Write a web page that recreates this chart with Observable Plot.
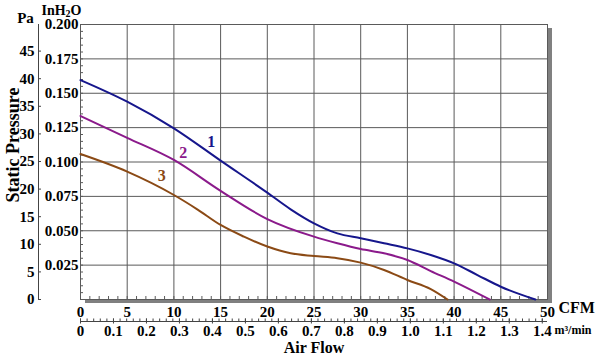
<!DOCTYPE html>
<html>
<head>
<meta charset="utf-8">
<script src="https://cdn.jsdelivr.net/npm/d3@7"></script>
<script src="https://cdn.jsdelivr.net/npm/@observablehq/plot@0.6"></script>
<style>
  html, body { margin: 0; padding: 0; background: #fff; }
  #chart { width: 600px; height: 358px; }
  #chart svg text { font-weight: bold; }
</style>
</head>
<body>
<div id="chart"></div>
<script>
// ---- data ----
const PA_PER_INH2O = 249.09;
const CFM_PER_M3MIN = 35.3147;

const cfmTicks = [0, 5, 10, 15, 20, 25, 30, 35, 40, 45, 50];
const inH2OTicks = [0.025, 0.05, 0.075, 0.1, 0.125, 0.15, 0.175, 0.2];
const paTicks = [0, 5, 10, 15, 20, 25, 30, 35, 40, 45];
const m3Ticks = [0, 0.1, 0.2, 0.3, 0.4, 0.5, 0.6, 0.7, 0.8, 0.9, 1.0, 1.1, 1.2, 1.3, 1.4];

const cfm1 = [0, 5, 10, 15, 20, 22.5, 25, 27.5, 30, 32.5, 35, 37.5, 40, 42.5, 45, 48.7];
const p1 = [0.1596, 0.1439, 0.1245, 0.1010, 0.0777, 0.0656, 0.0554, 0.0481, 0.0445, 0.0409, 0.0372, 0.0324, 0.0263, 0.0178, 0.0093, 0];

const cfm2 = [0, 5, 10, 15, 20, 25, 27.5, 30, 32.5, 35, 37.5, 40, 43.8];
const p2 = [0.1335, 0.1176, 0.1015, 0.0790, 0.0585, 0.0457, 0.0409, 0.0367, 0.0336, 0.0287, 0.0207, 0.0130, 0];

const cfm3 = [0, 5, 10, 12.5, 15, 17.5, 20, 22.5, 25, 27.5, 30, 32.5, 35, 37.5, 39.3];
const p3 = [0.1058, 0.0930, 0.0760, 0.0656, 0.0542, 0.0457, 0.0385, 0.0336, 0.0316, 0.0300, 0.0268, 0.0215, 0.0142, 0.0076, 0];

const curveNames = ["1", "2", "3"];
const curveColors = ["#16168c", "#8b1a8b", "#8b4a15"];
const curveLabelX = [14.0, 11.0, 8.7];
const curveLabelY = [0.1148, 0.1063, 0.0898];

// ---- derived tables ----
const series = [[cfm1, p1], [cfm2, p2], [cfm3, p3]].flatMap(([xs, ys], k) =>
  xs.map((x, i) => ({x, y: ys[i], s: curveNames[k]})));
const curveLabels = curveNames.map((s, k) => ({s, x: curveLabelX[k], y: curveLabelY[k]}));
const cfmMinor = d3.range(0, 51, 1);
const inMinor = d3.range(0, 41).map(i => i * 0.005);
const paInH2O = paTicks.map(p => p / PA_PER_INH2O);
const m3Cfm = m3Ticks.map(m => m * CFM_PER_M3MIN);
const m3MinorCfm = d3.range(0, 71).map(i => i * 0.02 * CFM_PER_M3MIN);

const W = 600, H = 358;
const mL = 80, mR = 53, mT = 24, mB = 59;
const frameW = W - mL - mR, frameH = H - mT - mB;
const gridColor = "#5a5a5a";
const FS = 15;

const chart = Plot.plot({
  width: W, height: H,
  marginLeft: mL, marginRight: mR, marginTop: mT, marginBottom: mB,
  x: {domain: [0, 50], label: null},
  y: {domain: [0, 0.2], label: null},
  color: {domain: curveNames, range: curveColors},
  style: {fontFamily: "'Liberation Serif', 'Times New Roman', serif", fontWeight: "bold", fontSize: "15px", color: "#000", background: "#fff"},
  marks: [
    Plot.frame({fill: "#808080", stroke: null, dx: 4.5, dy: 3.5}),
    Plot.frame({fill: "#fff", stroke: null}),
    Plot.gridX(cfmTicks, {stroke: gridColor, strokeOpacity: 1}),
    Plot.gridY(inH2OTicks, {stroke: gridColor, strokeOpacity: 1}),
    Plot.tickX(cfmMinor, {insetTop: frameH - 3, stroke: gridColor}),
    Plot.tickY(inMinor, {insetRight: frameW - 3, stroke: gridColor}),
    Plot.frame({stroke: gridColor}),
    Plot.line(series, {x: "x", y: "y", z: "s", stroke: "s", strokeWidth: 2, curve: "monotone-x"}),
    Plot.text(curveLabels, {x: "x", y: "y", text: "s", fill: "s", fontSize: 16, fontWeight: "bold"}),
    // inH2O axis
    Plot.axisY(inH2OTicks, {anchor: "left", tickSize: 0, tickPadding: 2, fontSize: FS, fontWeight: "bold",
      tickFormat: d3.format(".3f"), label: null}),
    // Pa axis
    Plot.ruleX([0], {y1: 0, y2: 0.2, dx: -42, stroke: "#444"}),
    Plot.axisY(paInH2O, {anchor: "left", tickSize: 3, dx: -39, text: null, label: null, stroke: "#444"}),
    Plot.axisY(paInH2O, {anchor: "left", tickSize: 0, tickPadding: 4, dx: -42, label: null, fontSize: FS, fontWeight: "bold",
      tickFormat: d => String(Math.round(d * PA_PER_INH2O))}),
    // CFM axis
    Plot.axisX(cfmTicks, {anchor: "bottom", tickSize: 0, tickPadding: 7, label: null, fontSize: FS, fontWeight: "bold"}),
    // m3/min axis
    Plot.ruleY([0], {x1: 0, x2: 50, dy: 22, stroke: "#444"}),
    Plot.axisX(m3MinorCfm, {anchor: "bottom", tickSize: 2.5, dy: 19.5, text: null, label: null, stroke: "#444"}),
    Plot.axisX(m3Cfm, {anchor: "bottom", tickSize: 5, dy: 19.5, text: null, label: null, stroke: "#444"}),
    Plot.axisX(m3Cfm, {anchor: "bottom", tickSize: 0, tickPadding: 26, label: null, fontSize: FS, fontWeight: "bold",
      tickFormat: d => { const m = d / CFM_PER_M3MIN; return m < 1e-9 ? "0" : m.toFixed(1); }}),
    // titles
    Plot.text(["Static Pressure"], {frameAnchor: "left", textAnchor: "middle", dx: -67, dy: -17, rotate: -90, fontSize: 18, fontWeight: "bold"}),
    Plot.text(["Air Flow"], {frameAnchor: "bottom", dy: 53, fontSize: 16, fontWeight: "bold"}),
    Plot.text(["CFM"], {frameAnchor: "bottom-right", dx: 11, dy: 13, textAnchor: "start", fontSize: 16, fontWeight: "bold"}),
    Plot.text(["m³/min"], {frameAnchor: "bottom-right", dx: 7, dy: 34, textAnchor: "start", fontSize: 12, fontWeight: "bold"}),
    Plot.text(["Pa"], {frameAnchor: "top-left", textAnchor: "middle", dx: -55, dy: -12, fontSize: 15, fontWeight: "bold"}),
    Plot.text(["InH2O"], {frameAnchor: "top-left", textAnchor: "middle", dx: -19, dy: -19, fontSize: 14, fontWeight: "bold"})
  ]
});
// subscript the "2" of InH2O
d3.select(chart).selectAll("text").filter(function () { return this.textContent === "InH2O"; })
  .each(function () {
    const t = d3.select(this);
    t.text(null);
    t.append("tspan").text("InH");
    t.append("tspan").attr("font-size", 10).attr("dy", 2).text("2");
    t.append("tspan").attr("dy", -2).text("O");
  });
document.getElementById("chart").appendChild(chart);
</script>
</body>
</html>
